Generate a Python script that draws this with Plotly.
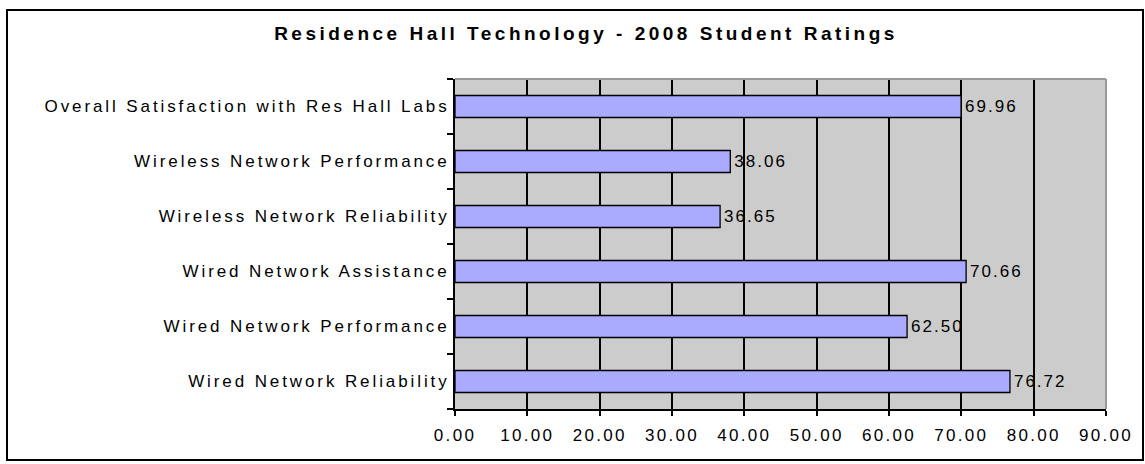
import plotly.graph_objects as go

categories = [
    "Overall Satisfaction with Res Hall Labs",
    "Wireless Network Performance",
    "Wireless Network Reliability",
    "Wired Network Assistance",
    "Wired Network Performance",
    "Wired Network Reliability",
]
values = [69.96, 38.06, 36.65, 70.66, 62.50, 76.72]
title_text = "Residence Hall Technology - 2008 Student Ratings"

# plot from bottom to top so first category sits on top
cats_plot = categories[::-1]
vals_plot = values[::-1]

W, H = 1145, 464
L, R, T, B = 455, 39, 79, 55
pw, ph = W - L - R, H - T - B
FONT = "Liberation Sans, Arial, sans-serif"

def px_x(x):
    return (x - L) / pw

def px_y(y):
    return (H - B - y) / ph

fig = go.Figure()
fig.add_trace(go.Bar(
    y=cats_plot, x=vals_plot, orientation="h",
    marker=dict(color="#AAAAFF", line=dict(color="#000000", width=1.3)),
    width=0.4,
    text=[f"{v:.2f}" for v in vals_plot],
    textposition="outside",
    textfont=dict(family=FONT, size=17, color="#000000"),
    cliponaxis=False,
))

fig.update_layout(
    width=W, height=H,
    margin=dict(l=L, r=R, t=T, b=B, pad=0),
    paper_bgcolor="white",
    plot_bgcolor="#CCCCCC",
    showlegend=False,
    title=dict(text="<b>" + title_text + "</b>", x=586 / W, xanchor="center",
               xref="container", y=1 - 33 / H, yanchor="middle",
               font=dict(family=FONT, size=19, color="#000000")),
)
fig.update_xaxes(
    range=[0, 90], dtick=10, tickformat=".2f",
    showgrid=True, gridcolor="#000000", gridwidth=2,
    showline=True, linecolor="#000000", linewidth=2,
    ticks="outside", ticklen=5, tickcolor="#000000", tickwidth=2,
    tickfont=dict(family=FONT, size=17, color="#000000"),
    ticklabelstandoff=5,
    zeroline=False, fixedrange=True,
)
fig.update_yaxes(
    showgrid=False,
    showline=True, linecolor="#000000", linewidth=2,
    ticks="outside", ticklen=6, tickcolor="#000000", tickwidth=2,
    tickson="boundaries",
    tickfont=dict(family=FONT, size=17, color="#000000"),
    fixedrange=True,
)
# gray plot-area border on top and right
fig.add_shape(type="line", xref="paper", yref="paper", x0=0, x1=1, y0=1, y1=1,
              line=dict(color="#999999", width=2))
fig.add_shape(type="line", xref="paper", yref="paper", x0=1, x1=1, y0=0, y1=1,
              line=dict(color="#999999", width=2))
# outer chart border
fig.add_shape(type="rect", xref="paper", yref="paper",
              x0=px_x(7), x1=px_x(1143), y0=px_y(460), y1=px_y(10),
              line=dict(color="#000000", width=2), fillcolor="rgba(0,0,0,0)")

post = """
document.body.style.margin='0px';
var gd = document.getElementsByClassName('plotly-graph-div')[0];
function spacing(){
  document.querySelectorAll('.ytick text').forEach(function(t){t.style.letterSpacing='2.9px';});
  document.querySelectorAll('.xtick text').forEach(function(t){t.style.letterSpacing='2.3px';});
  document.querySelectorAll('.bartext').forEach(function(t){
    t.style.letterSpacing='2px';
    t.setAttribute('dx', '6');
  });
  document.querySelectorAll('.gtitle').forEach(function(t){t.style.letterSpacing='3.5px';});
}
spacing();
if (gd && gd.on) { gd.on('plotly_afterplot', spacing); }
setTimeout(spacing, 50);
"""
fig.write_html("out.html", post_script=post, config={"displayModeBar": False})
